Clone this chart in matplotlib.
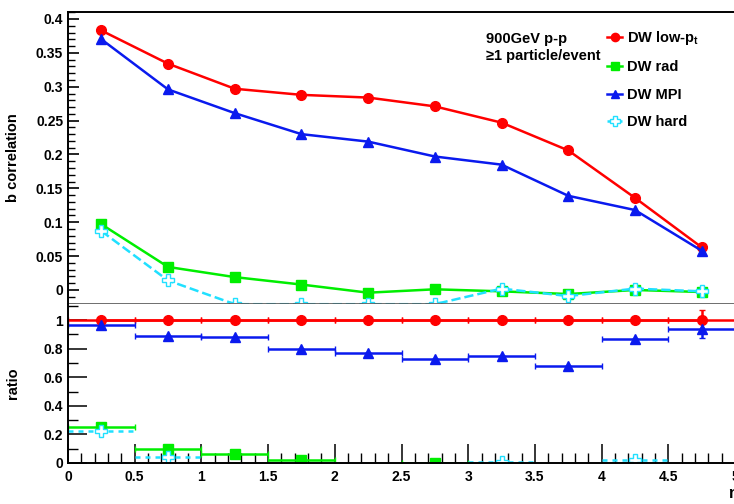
import matplotlib
matplotlib.use("Agg")
import matplotlib.pyplot as plt
from matplotlib.ticker import MultipleLocator

plt.rcParams['font.family'] = ['Liberation Sans', 'DejaVu Sans']
plt.rcParams['font.weight'] = 'bold'
plt.rcParams['font.size'] = 10

# eta bin centres (bins are 0.5 wide)
eta = [0.25, 0.75, 1.25, 1.75, 2.25, 2.75, 3.25, 3.75, 4.25, 4.75]

# b correlation per tune
low_pt = [0.383, 0.334, 0.297, 0.288, 0.284, 0.271, 0.247, 0.206, 0.136, 0.063]
rad = [0.097, 0.034, 0.019, 0.008, -0.004, 0.001, -0.002, -0.006, 0.000, -0.003]
mpi = [0.370, 0.296, 0.261, 0.230, 0.219, 0.197, 0.185, 0.139, 0.118, 0.058]
hard = [0.087, 0.014, -0.021, -0.021, -0.021, -0.021, 0.002, -0.009, 0.002, -0.002]

# ratio to DW low-pt
r_low = [1, 1, 1, 1, 1, 1, 1, 1, 1, 1]
r_low_err = [0, 0, 0, 0, 0, 0, 0, 0, 0, 0.07]
r_mpi = [0.965, 0.885, 0.88, 0.795, 0.77, 0.725, 0.745, 0.675, 0.87, 0.935]
r_mpi_err = [0, 0, 0, 0, 0, 0, 0, 0, 0, 0.06]
r_rad_eta = [0.25, 0.75, 1.25, 1.75, 2.75]
r_rad = [0.25, 0.10, 0.06, 0.02, 0.0]
r_hard_eta = [0.25, 0.75, 3.25, 4.25]
r_hard = [0.225, 0.04, 0.01, 0.02]

red = '#ff0000'
green = '#00ee00'
blue = '#0a1aee'
cyan = '#20e0ff'

fig = plt.figure(figsize=(7.34, 5.04), dpi=100)
x0 = 68 / 734
w = (735 - 68) / 734
ax1 = fig.add_axes([x0, 1 - 304 / 504, w, (304 - 12) / 504])
ax2 = fig.add_axes([x0, 1 - 463 / 504, w, (463 - 304) / 504])

ax1.plot(eta, low_pt, '-o', color=red, lw=1.8, ms=7, label='DW low-p$_\\mathregular{t}$')
ax1.plot(eta, rad, '-s', color=green, lw=1.8, ms=7, label='DW rad')
ax1.plot(eta, mpi, '-^', color=blue, lw=1.8, ms=7, label='DW MPI')
ax1.plot(eta, hard, '--P', color=cyan, lw=1.8, ms=8, mfc='white', mec=cyan, label='DW hard')

ax1.set_xlim(0, 5)
ax1.set_ylim(-0.0207, 0.4103)
ax1.yaxis.set_minor_locator(MultipleLocator(0.01))
ax1.set_yticks([0, 0.05, 0.1, 0.15, 0.2, 0.25, 0.3, 0.35, 0.4])
ax1.set_yticklabels(['0', '0.05', '0.1', '0.15', '0.2', '0.25', '0.3', '0.35', '0.4'])
ax1.tick_params(axis='y', which='major', direction='in', length=8, width=1.2, labelsize=10)
ax1.tick_params(axis='y', which='minor', direction='in', length=5, width=1)
ax1.tick_params(axis='x', which='both', bottom=False, labelbottom=False)
ax1.set_ylabel('b correlation', fontsize=10.5, fontweight='bold')
ax1.yaxis.set_label_coords(-0.072, 0.5)
for s in ['left', 'top']:
    ax1.spines[s].set_linewidth(1.4)
ax1.spines['bottom'].set_color('#555555')
ax1.spines['bottom'].set_linewidth(1.2)

ax1.legend(loc='upper left', bbox_to_anchor=(0.80, 0.962), frameon=False, handlelength=1.0,
           labelspacing=0.92, fontsize=10.5, handletextpad=0.35, markerscale=0.85,
           borderaxespad=0)
ax1.text(0.627, 0.932, '900GeV p-p\n\u22651 particle/event', transform=ax1.transAxes,
         fontsize=10.5, fontweight='bold', va='top', linespacing=1.25)

ax2.errorbar(eta, r_low, xerr=0.25, yerr=r_low_err, fmt='-o', color=red, lw=1.8, ms=7, capsize=2)
ax2.errorbar(eta, r_mpi, xerr=0.25, yerr=r_mpi_err, fmt='^', color=blue, lw=1.8, ms=7, capsize=2.5)
ax2.errorbar(r_rad_eta, r_rad, xerr=0.25, fmt='s', color=green, lw=1.8, ms=7, capsize=2)
eb = ax2.errorbar(r_hard_eta, r_hard, xerr=0.25, fmt='P', color=cyan, lw=1.8, ms=8,
                  mfc='white', mec=cyan, capsize=0)
eb[2][0].set_linestyle((0, (2, 2)))

ax2.set_xlim(0, 5)
ax2.set_ylim(0, 1.112)
ax2.xaxis.set_minor_locator(MultipleLocator(0.1))
ax2.set_xticks([0, 0.5, 1, 1.5, 2, 2.5, 3, 3.5, 4, 4.5, 5])
ax2.set_xticklabels(['0', '0.5', '1', '1.5', '2', '2.5', '3', '3.5', '4', '4.5', '5'])
ax2.yaxis.set_minor_locator(MultipleLocator(0.1))
ax2.set_yticks([0, 0.2, 0.4, 0.6, 0.8, 1])
ax2.set_yticklabels(['0', '0.2', '0.4', '0.6', '0.8', '1'])
ax2.tick_params(which='major', direction='in', length=14, width=1.1, labelsize=10)
ax2.tick_params(which='minor', direction='in', length=7, width=1)
ax2.tick_params(axis='x', pad=5)
ax2.set_ylabel('ratio', fontsize=10.5, fontweight='bold')
ax2.yaxis.set_label_coords(-0.072, 0.5)
ax2.spines['top'].set_visible(False)
for s in ['left', 'bottom']:
    ax2.spines[s].set_linewidth(1.4)

fig.text(0.992, 0.005, '\u03b7', fontsize=12, ha='left', va='bottom')

fig.savefig('out.png', dpi=100)
